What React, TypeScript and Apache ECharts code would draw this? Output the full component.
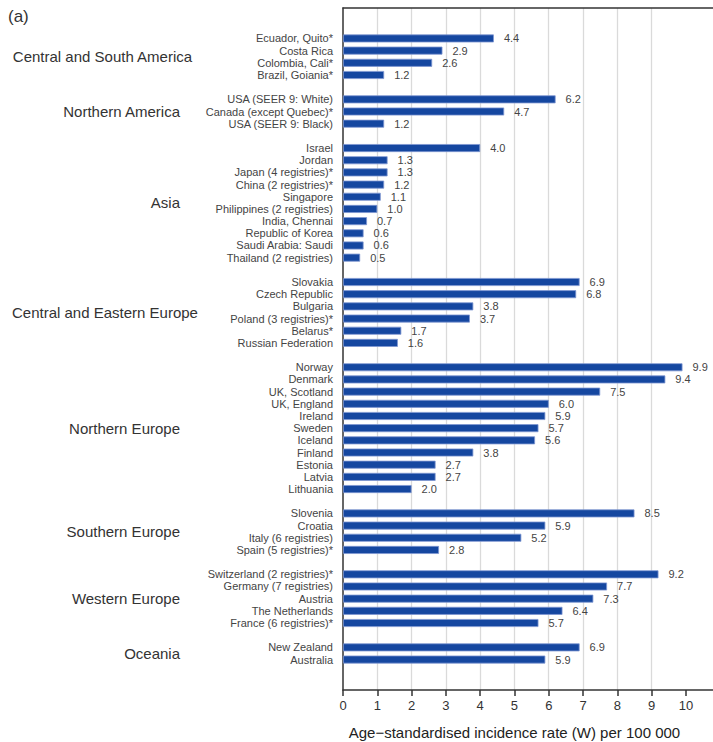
import React, { useEffect, useRef } from 'react';
import * as echarts from 'echarts';

// Regions in display order and how many registries belong to each
const regions = [
  'Central and South America',
  'Northern America',
  'Asia',
  'Central and Eastern Europe',
  'Northern Europe',
  'Southern Europe',
  'Western Europe',
  'Oceania',
];
const regionSizes = [4, 3, 10, 6, 11, 4, 5, 2];

const countries = [
  'Ecuador, Quito*', 'Costa Rica', 'Colombia, Cali*', 'Brazil, Goiania*',
  'USA (SEER 9: White)', 'Canada (except Quebec)*', 'USA (SEER 9: Black)',
  'Israel', 'Jordan', 'Japan (4 registries)*', 'China (2 registries)*', 'Singapore',
  'Philippines (2 registries)', 'India, Chennai', 'Republic of Korea', 'Saudi Arabia: Saudi',
  'Thailand (2 registries)',
  'Slovakia', 'Czech Republic', 'Bulgaria', 'Poland (3 registries)*', 'Belarus*',
  'Russian Federation',
  'Norway', 'Denmark', 'UK, Scotland', 'UK, England', 'Ireland', 'Sweden', 'Iceland',
  'Finland', 'Estonia', 'Latvia', 'Lithuania',
  'Slovenia', 'Croatia', 'Italy (6 registries)', 'Spain (5 registries)*',
  'Switzerland (2 registries)*', 'Germany (7 registries)', 'Austria', 'The Netherlands',
  'France (6 registries)*',
  'New Zealand', 'Australia',
];

const rates = [
  4.4, 2.9, 2.6, 1.2,
  6.2, 4.7, 1.2,
  4.0, 1.3, 1.3, 1.2, 1.1, 1.0, 0.7, 0.6, 0.6, 0.5,
  6.9, 6.8, 3.8, 3.7, 1.7, 1.6,
  9.9, 9.4, 7.5, 6.0, 5.9, 5.7, 5.6, 3.8, 2.7, 2.7, 2.0,
  8.5, 5.9, 5.2, 2.8,
  9.2, 7.7, 7.3, 6.4, 5.7,
  6.9, 5.9,
];

const xTicks = [0, 1, 2, 3, 4, 5, 6, 7, 8, 9, 10];
const xAxisTitle = 'Age\u2212standardised incidence rate (W) per 100 000';
const panelTag = '(a)';

const FONT = '"Liberation Sans", Arial, Helvetica, sans-serif';
const GAP = 'gap:';
const X_MAX = 10.79;

function buildRows() {
  const cats: string[] = [];
  const vals: (number | string)[] = [];
  const spans: { name: string; first: string; last: string }[] = [];
  let g = 0;
  const pushGap = () => {
    cats.push(GAP + g++);
    vals.push('-');
  };
  pushGap();
  pushGap();
  let k = 0;
  regions.forEach((region, ri) => {
    if (ri > 0) pushGap();
    const first = countries[k];
    for (let i = 0; i < regionSizes[ri]; i++) {
      cats.push(countries[k]);
      vals.push(rates[k]);
      k++;
    }
    spans.push({ name: region, first, last: countries[k - 1] });
  });
  pushGap();
  pushGap();
  return { cats, vals, spans };
}

function textWidth(text: string, size: number) {
  const ctx = document.createElement('canvas').getContext('2d');
  if (!ctx) return text.length * size * 0.5;
  ctx.font = `${size}px ${FONT}`;
  return ctx.measureText(text).width;
}

export default function App() {
  const ref = useRef<HTMLDivElement>(null);

  useEffect(() => {
    if (!ref.current) return;
    const chart = echarts.init(ref.current, null, { renderer: 'svg' });
    const { cats, vals, spans } = buildRows();

    chart.setOption({
      animation: false,
      backgroundColor: '#ffffff',
      textStyle: { fontFamily: FONT },
      grid: { left: 343, right: 0, top: 8, bottom: 52, containLabel: false },
      xAxis: [
        {
          type: 'value',
          position: 'bottom',
          min: 0,
          max: X_MAX,
          interval: 1,
          axisLine: { show: true, onZero: false, lineStyle: { color: '#333', width: 1.5 } },
          axisTick: {
            show: true,
            length: 6,
            inside: false,
            customValues: xTicks,
            lineStyle: { color: '#333', width: 1.5 },
          },
          axisLabel: {
            customValues: xTicks,
            fontSize: 13,
            color: '#333',
            margin: 9,
            fontFamily: FONT,
          },
          splitLine: {
            show: true,
            showMinLine: false,
            showMaxLine: false,
            lineStyle: { color: '#dadada', width: 1.3 },
          },
        },
        {
          type: 'value',
          position: 'top',
          min: 0,
          max: X_MAX,
          axisLine: { show: true, onZero: false, lineStyle: { color: '#333', width: 1.5 } },
          axisTick: { show: false },
          axisLabel: { show: false },
          splitLine: { show: false },
        },
      ],
      yAxis: {
        type: 'category',
        inverse: true,
        data: cats,
        axisLine: { show: true, onZero: false, lineStyle: { color: '#333', width: 1.5 } },
        axisTick: { show: false },
        axisLabel: {
          interval: 0,
          fontSize: 11,
          color: '#444',
          margin: 10,
          fontFamily: FONT,
          formatter: (v: string) => (v.startsWith(GAP) ? '' : v),
        },
        splitLine: { show: false },
      },
      series: [
        {
          type: 'bar',
          xAxisIndex: 0,
          data: vals,
          barWidth: 8,
          itemStyle: { color: '#1547a0', borderColor: '#7f97d2', borderWidth: 0.8 },
          label: {
            show: true,
            position: 'right',
            distance: 10,
            fontSize: 11,
            color: '#444',
            fontFamily: FONT,
            formatter: (p: any) => Number(p.value).toFixed(1),
          },
        },
      ],
    });

    // Region headings beside each block of registries, plus panel tag and axis title
    const headingSize = 15;
    const headings = spans.map((s) => {
      const y0 = chart.convertToPixel({ yAxisIndex: 0 }, s.first) as number;
      const y1 = chart.convertToPixel({ yAxisIndex: 0 }, s.last) as number;
      const w = textWidth(s.name, headingSize);
      const right = Math.max(180, 12 + w);
      return {
        type: 'text',
        x: right,
        y: (y0 + y1) / 2,
        style: {
          text: s.name,
          align: 'right',
          verticalAlign: 'middle',
          fontSize: headingSize,
          fontFamily: FONT,
          fill: '#333',
        },
      };
    });
    const x0 = chart.convertToPixel({ xAxisIndex: 0 }, 0) as number;
    const x10 = chart.convertToPixel({ xAxisIndex: 0 }, 10) as number;

    chart.setOption({
      graphic: [
        ...headings,
        {
          type: 'text',
          x: 8,
          y: 16,
          style: {
            text: panelTag,
            align: 'left',
            verticalAlign: 'middle',
            fontSize: 17,
            fontFamily: FONT,
            fill: '#333',
          },
        },
        {
          type: 'text',
          x: (x0 + x10) / 2,
          y: 732,
          style: {
            text: xAxisTitle,
            align: 'center',
            verticalAlign: 'middle',
            fontSize: 15,
            fontFamily: FONT,
            fill: '#222',
          },
        },
      ],
    });

    return () => chart.dispose();
  }, []);

  return (
    <div
      ref={ref}
      style={{ position: 'fixed', left: 0, top: 0, width: 713, height: 742 }}
    />
  );
}
